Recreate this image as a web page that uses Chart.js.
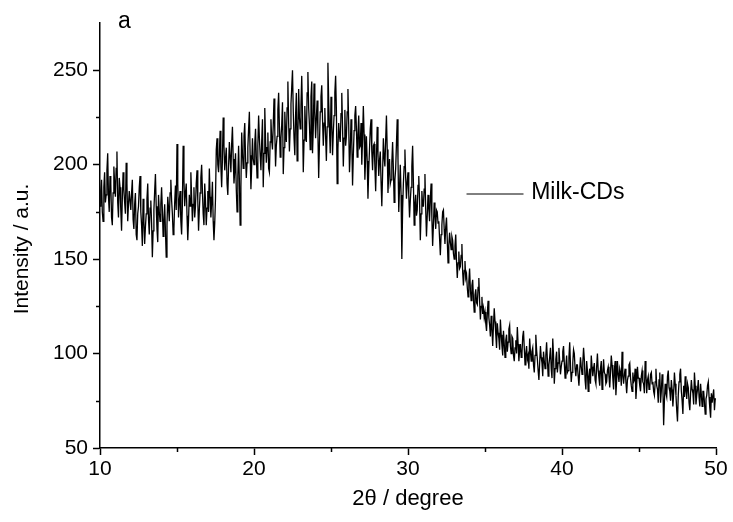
<!DOCTYPE html>
<html><head><meta charset="utf-8">
<script src="https://cdn.jsdelivr.net/npm/chart.js@4.4.1/dist/chart.umd.min.js"></script>
<style>html,body{margin:0;padding:0;background:#fff}#wrap{width:733px;height:522px}</style>
</head><body><div id="wrap"><canvas id="c" width="733" height="522"></canvas></div>
<script>
const seriesLabel = 'Milk-CDs';
const panelLabel = 'a';
const xTitle = '2θ / degree';
const yTitle = 'Intensity / a.u.';
const angleStart = 10, angleStep = 0.05;
const intensity = [
178,186,192,175,170,188,196,180,184,197,206,183,175,194,190,172,168,185,199,190,
183,198,207,180,172,193,188,176,165,182,196,187,180,174,201,190,170,179,186,181,
176,185,192,171,166,179,185,163,160,174,178,188,194,175,168,157,182,170,158,167,
174,182,190,171,163,177,181,169,151,165,176,186,195,178,166,159,184,175,170,179,
188,176,162,170,179,165,151,168,183,177,170,185,192,181,174,163,166,180,189,176,
211,190,172,181,186,170,163,179,210,192,178,185,190,173,160,171,184,178,196,183,
170,179,188,172,178,190,197,181,165,176,185,193,200,186,174,168,190,181,168,177,
186,175,198,183,172,180,191,170,160,169,182,208,214,200,196,205,218,199,188,203,
225,210,197,203,209,190,184,199,212,204,196,211,220,203,190,197,206,187,175,194,
210,192,168,188,217,206,198,215,222,204,193,201,209,219,228,205,187,199,214,203,
200,211,219,204,193,210,226,214,205,197,212,224,188,206,230,213,201,209,217,198,
196,212,224,213,208,221,235,218,199,210,215,229,238,220,204,214,221,233,195,209,
228,217,212,230,244,222,207,219,232,241,250,228,214,205,226,238,202,215,240,225,
219,231,247,226,196,213,231,219,212,238,249,230,221,208,236,244,206,219,243,228,
214,225,234,217,193,211,228,236,242,224,210,222,230,215,202,220,254,233,219,206,
236,222,205,217,226,238,247,229,190,208,222,215,212,227,238,220,199,214,229,210,
215,228,240,221,196,207,224,213,189,205,218,226,231,219,204,216,226,209,210,222,
200,214,231,216,192,204,215,202,182,197,208,219,224,207,197,210,211,199,186,203,
220,206,194,202,207,191,178,195,214,204,199,213,226,208,185,196,203,190,192,201,
212,198,180,192,198,211,224,203,175,188,200,184,150,176,190,199,208,193,182,191,
196,184,172,181,188,199,210,191,168,179,184,173,176,189,194,181,160,174,186,178,
178,187,195,176,162,173,184,177,170,182,190,172,157,168,180,173,166,176,175,169,
170,161,152,163,168,175,176,166,158,167,172,160,148,157,164,159,155,162,160,153,
150,157,163,149,140,148,154,145,146,152,158,143,136,144,149,140,142,135,130,138,
145,134,128,136,139,129,122,131,134,127,126,135,140,128,118,125,130,121,124,119,
122,116,112,121,128,119,115,109,120,113,104,115,124,117,110,103,116,111,108,102,
118,110,104,99,112,105,98,107,110,101,106,113,115,104,100,109,108,99,96,103,
107,100,114,105,96,102,105,98,100,109,112,103,94,100,104,97,99,92,108,101,
96,101,103,94,90,99,110,102,97,91,86,95,104,98,95,88,101,96,92,99,
106,97,88,94,98,103,92,87,108,99,84,92,97,101,90,95,103,96,89,93,
96,101,104,95,87,93,99,90,91,98,106,94,85,90,95,102,100,92,88,94,
94,88,83,91,98,93,89,95,103,97,86,81,96,91,80,88,92,84,99,93,
88,92,95,86,84,93,100,91,87,83,92,96,81,89,97,90,89,84,85,91,
93,88,82,90,99,94,87,81,91,96,78,86,96,89,85,92,90,83,101,88,
84,89,92,85,79,86,88,94,95,87,83,80,90,85,86,92,76,83,93,87,
87,83,80,88,91,85,84,79,96,89,79,86,88,81,82,89,90,84,85,80,
78,85,92,83,81,74,86,90,74,80,89,83,62,75,84,79,77,88,91,82,
80,75,86,81,72,79,90,84,78,70,64,78,85,89,92,80,75,68,83,77,
88,80,76,84,82,74,70,79,86,81,79,73,90,83,73,78,81,86,77,72,
84,78,72,80,80,74,68,76,78,83,85,77,71,66,79,74,74,81,70,76,
76
];
const xTicks = [10,20,30,40,50];
const yTicks = [50,100,150,200,250];
const xMinorTicks = [15,25,35,45];
const yMinorTicks = [75,125,175,225];

const points = intensity.map((v,i)=>({x: +(angleStart + i*angleStep).toFixed(2), y: v}));
const FONT = "'Liberation Sans', Arial, sans-serif";

const extras = {
  id:'extras',
  afterDraw(chart){
    const ctx = chart.ctx, a = chart.chartArea;
    const xs = chart.scales.x, ys = chart.scales.y;
    ctx.save();
    ctx.strokeStyle = '#000'; ctx.lineWidth = 1.5;
    xMinorTicks.forEach(v=>{ const p = Math.round(xs.getPixelForValue(v))+0.5; ctx.beginPath(); ctx.moveTo(p, a.bottom); ctx.lineTo(p, a.bottom+4); ctx.stroke(); });
    yMinorTicks.forEach(v=>{ const p = Math.round(ys.getPixelForValue(v))+0.5; ctx.beginPath(); ctx.moveTo(a.left, p); ctx.lineTo(a.left-4, p); ctx.stroke(); });
    ctx.fillStyle = '#000'; ctx.textBaseline = 'middle'; ctx.textAlign='left';
    ctx.font = "23px " + FONT;
    ctx.fillText(panelLabel, a.left + 18, 22);
    ctx.save();
    ctx.translate(22, 249); ctx.rotate(-Math.PI/2);
    ctx.textAlign = 'center'; ctx.font = "21px " + FONT;
    ctx.fillText(yTitle, 0, 0);
    ctx.restore();
    const ds = chart.data.datasets[0];
    ctx.strokeStyle = ds.borderColor; ctx.lineWidth = 1;
    ctx.beginPath(); ctx.moveTo(xs.getPixelForValue(33.8), 194); ctx.lineTo(xs.getPixelForValue(37.5), 194); ctx.stroke();
    ctx.font = "23px " + FONT;
    ctx.fillText(ds.label, xs.getPixelForValue(38.0), 193);
    ctx.restore();
  }
};

new Chart(document.getElementById('c'), {
  type:'line',
  data:{ datasets:[{ label: seriesLabel, data: points, borderColor:'#000', borderWidth:1.3, pointRadius:0, tension:0, fill:false }]},
  options:{
    responsive:false, animation:false, devicePixelRatio:1,
    layout:{ padding:{ top:23, right:17, left:0, bottom:0 } },
    plugins:{ legend:{display:false}, tooltip:{enabled:false} },
    scales:{
      x:{ type:'linear', min:10, max:50,
        afterBuildTicks(s){ s.ticks = xTicks.map(v=>({value:v})); },
        afterFit(s){ s.height = 74; },
        grid:{ drawOnChartArea:false, drawTicks:true, tickLength:7, tickColor:'#000', tickWidth:1.5 },
        border:{ display:true, color:'#000', width:1.5 },
        ticks:{ color:'#000', font:{ family:FONT, size:21 }, padding:2, maxRotation:0 },
        title:{ display:true, text:xTitle, color:'#000', font:{ family:FONT, size:22 }, padding:{top:0, bottom:10} }
      },
      y:{ type:'linear', min:50, max:275,
        afterBuildTicks(s){ s.ticks = yTicks.map(v=>({value:v})); },
        afterFit(s){ s.width = 100; },
        grid:{ drawOnChartArea:false, drawTicks:true, tickLength:7, tickColor:'#000', tickWidth:1.5 },
        border:{ display:true, color:'#000', width:1.5 },
        ticks:{ color:'#000', font:{ family:FONT, size:21 }, padding:5 },
        title:{ display:false, text:yTitle }
      }
    }
  },
  plugins:[extras]
});
</script>
</body></html>
